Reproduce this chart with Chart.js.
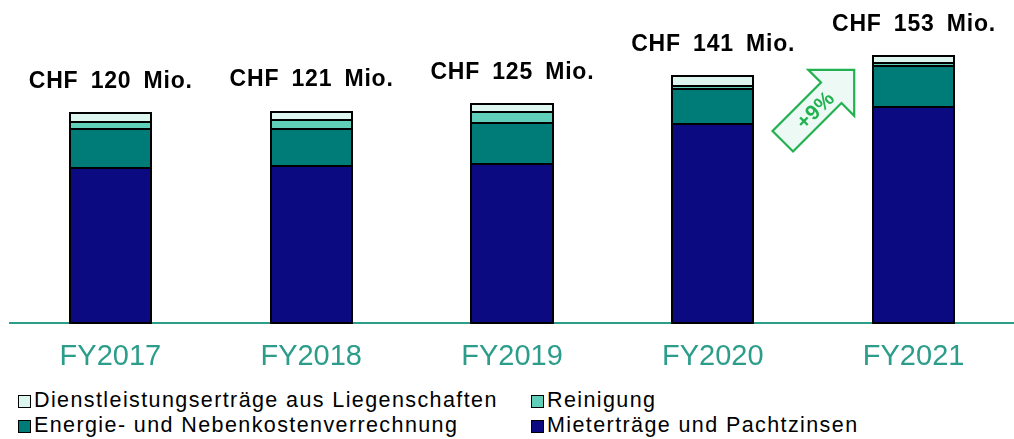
<!DOCTYPE html>
<html><head><meta charset="utf-8">
<script src="https://cdn.jsdelivr.net/npm/chart.js@4"></script>
<style>
html,body{margin:0;padding:0;background:#fff;}
#wrap{position:relative;width:1014px;height:439px;overflow:hidden;background:#fff;}
#c{position:absolute;left:0;top:0;}
.leg{position:absolute;font-family:'Liberation Sans',Arial,sans-serif;font-size:21.5px;line-height:20px;color:#000;white-space:nowrap;display:flex;align-items:center;letter-spacing:1.4px;}
.box{box-sizing:border-box;width:13px;height:13px;border:1.5px solid #000;margin-right:3px;margin-top:3px;flex:none;}
</style></head>
<body><div id="wrap"><canvas id="c" width="1014" height="380"></canvas><div id="legend"></div></div>
<script>
// ---- data ----
const categories = ['FY2017', 'FY2018', 'FY2019', 'FY2020', 'FY2021'];
const totalLabels = [120, 121, 125, 141, 153];
const mieter = [88.9, 89.8, 91.0, 114.1, 123.5];
const energie = [22.0, 21.6, 23.8, 19.9, 23.8];
const reinigung = [4.5, 4.8, 5.8, 1.9, 1.9];
const dienst = [4.6, 4.8, 4.6, 5.5, 3.6];
const seriesNames = ['Mieterträge und Pachtzinsen', 'Energie- und Nebenkostenverrechnung', 'Reinigung', 'Dienstleistungserträge aus Liegenschaften'];
const growthLabel = '+9%';

const colors = ['#0c0a80', '#007c78', '#5fcfb9', '#dcf5ef'];
const FONT = "'Liberation Sans', Arial, sans-serif";
const TEAL = '#2c9d8b';
const GREEN = '#21b24f';

const outlinePlugin = {
  id: 'outline',
  afterDatasetsDraw(chart) {
    const ctx = chart.ctx;
    ctx.save();
    ctx.strokeStyle = '#000';
    ctx.lineWidth = 2;
    chart.data.datasets.forEach((ds, k) => {
      chart.getDatasetMeta(k).data.forEach(el => {
        const l = Math.round(el.x - el.width / 2), r = Math.round(el.x + el.width / 2);
        const t = Math.round(Math.min(el.y, el.base)), b = Math.round(Math.max(el.y, el.base));
        ctx.strokeRect(l, t, r - l, b - t);
      });
    });
    ctx.restore();
  }
};

const totalsPlugin = {
  id: 'totals',
  afterDatasetsDraw(chart) {
    const ctx = chart.ctx, xs = chart.scales.x, ys = chart.scales.y;
    ctx.save();
    ctx.font = 'bold 23px ' + FONT;
    ctx.letterSpacing = '0.8px';
    ctx.wordSpacing = '5px';
    ctx.fillStyle = '#000';
    ctx.textAlign = 'center';
    ctx.textBaseline = 'alphabetic';
    categories.forEach((c, i) => {
      const sum = mieter[i] + energie[i] + reinigung[i] + dienst[i];
      const top = ys.getPixelForValue(sum);
      ctx.fillText('CHF ' + totalLabels[i] + ' Mio.', xs.getPixelForValue(i) + 0.4, top - 25.5);
    });
    ctx.restore();
  }
};

const arrowPlugin = {
  id: 'arrow',
  afterDatasetsDraw(chart) {
    const ctx = chart.ctx, xs = chart.scales.x, ys = chart.scales.y;
    const tipX = xs.getPixelForValue(3.5) + 41;
    const tipY = ys.getPixelForValue(145);
    const s = Math.SQRT1_2;
    const u = [s, -s], n = [s, s];
    const pt = (a, b) => [tipX + u[0] * a + n[0] * b, tipY + u[1] * a + n[1] * b];
    const L = 32.5, H = 32.5, w = 14.5, S = 101;
    const pts = [pt(0, 0), pt(-L, -H), pt(-L, -w), pt(-S, -w), pt(-S, w), pt(-L, w), pt(-L, H)];
    ctx.save();
    ctx.beginPath();
    pts.forEach((p, i) => i ? ctx.lineTo(p[0], p[1]) : ctx.moveTo(p[0], p[1]));
    ctx.closePath();
    ctx.fillStyle = '#edf9f5';
    ctx.fill();
    ctx.strokeStyle = GREEN;
    ctx.lineWidth = 2.2;
    ctx.lineJoin = 'miter';
    ctx.stroke();
    const c = pt(-56, 1);
    ctx.translate(c[0], c[1]);
    ctx.rotate(-Math.PI / 4);
    ctx.font = 'bold 21px ' + FONT;
    ctx.letterSpacing = '0.5px';
    ctx.fillStyle = GREEN;
    ctx.textAlign = 'center';
    ctx.textBaseline = 'middle';
    ctx.fillText(growthLabel, 0, 1);
    ctx.restore();
  }
};

const seriesData = [mieter, energie, reinigung, dienst];

new Chart(document.getElementById('c'), {
  type: 'bar',
  data: {
    labels: categories,
    datasets: seriesNames.map((name, k) => ({
      label: name,
      data: seriesData[k],
      backgroundColor: colors[k],
      borderWidth: 0
    }))
  },
  options: {
    responsive: false,
    animation: false,
    layout: {padding: {left: 10, right: 0, top: 0, bottom: 0}},
    plugins: {legend: {display: false}, tooltip: {enabled: false}},
    datasets: {bar: {barPercentage: 0.404, categoryPercentage: 1}},
    scales: {
      x: {
        stacked: true,
        grid: {display: false, drawTicks: false},
        border: {display: true, color: TEAL, width: 2},
        ticks: {color: TEAL, font: {family: FONT, size: 29}, padding: 17},
        afterFit(scale) { scale.height = 57; }
      },
      y: {stacked: true, display: false, min: 0, max: 185}
    }
  },
  plugins: [outlinePlugin, totalsPlugin, arrowPlugin]
});

// legend (2 x 2 grid)
const legendOrder = [3, 2, 1, 0];
const legendPos = [[18, 389.8], [531, 389.8], [18, 415.1], [531, 415.1]];
const lg = document.getElementById('legend');
legendOrder.forEach((k, j) => {
  const d = document.createElement('div');
  d.className = 'leg';
  d.style.left = legendPos[j][0] + 'px';
  d.style.top = legendPos[j][1] + 'px';
  const b = document.createElement('span');
  b.className = 'box';
  b.style.background = colors[k];
  const t = document.createElement('span');
  t.textContent = seriesNames[k];
  d.appendChild(b); d.appendChild(t);
  lg.appendChild(d);
});
</script>
</body></html>
